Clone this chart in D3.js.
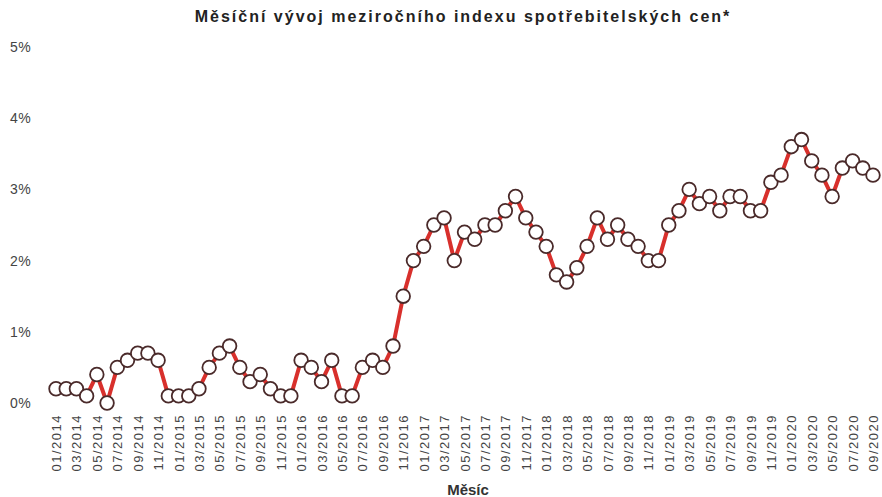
<!DOCTYPE html>
<html>
<head>
<meta charset="utf-8">
<script src="https://cdn.jsdelivr.net/npm/d3@7"></script>
<style>
  html, body { margin: 0; padding: 0; background: #fff; }
  svg { display: block; font-family: 'Liberation Sans', Arial, sans-serif; }
</style>
</head>
<body>
<div id="chart"></div>
<script>
(function() {
  'use strict';

  var title = 'Měsíční vývoj meziročního indexu spotřebitelských cen*';
  var xTitle = 'Měsíc';

  // year-on-year CPI, % (one array per year)
  var cpi2014 = [0.2, 0.2, 0.2, 0.1, 0.4, 0.0, 0.5, 0.6, 0.7, 0.7, 0.6, 0.1];
  var cpi2015 = [0.1, 0.1, 0.2, 0.5, 0.7, 0.8, 0.5, 0.3, 0.4, 0.2, 0.1, 0.1];
  var cpi2016 = [0.6, 0.5, 0.3, 0.6, 0.1, 0.1, 0.5, 0.6, 0.5, 0.8, 1.5, 2.0];
  var cpi2017 = [2.2, 2.5, 2.6, 2.0, 2.4, 2.3, 2.5, 2.5, 2.7, 2.9, 2.6, 2.4];
  var cpi2018 = [2.2, 1.8, 1.7, 1.9, 2.2, 2.6, 2.3, 2.5, 2.3, 2.2, 2.0, 2.0];
  var cpi2019 = [2.5, 2.7, 3.0, 2.8, 2.9, 2.7, 2.9, 2.9, 2.7, 2.7, 3.1, 3.2];
  var cpi2020 = [3.6, 3.7, 3.4, 3.2, 2.9, 3.3, 3.4, 3.3, 3.2];

  var years = [2014, 2015, 2016, 2017, 2018, 2019, 2020];
  var yTicks = [0, 1, 2, 3, 4, 5];

  var values = [].concat(cpi2014, cpi2015, cpi2016, cpi2017, cpi2018, cpi2019, cpi2020);

  // month labels "01/2014" ...
  var months = [];
  years.forEach(function(y) {
    for (var m = 1; m <= 12; m++) {
      if (months.length < values.length) {
        months.push((m < 10 ? '0' : '') + m + '/' + y);
      }
    }
  });
  var data = months.map(function(m, i) { return { month: m, value: values[i] }; });
  var tickMonths = months.filter(function(m, i) { return i % 2 === 0; });

  var width = 882, height = 497;
  var margin = { top: 47, right: 9, bottom: 94, left: 56 };

  var svg = d3.select('#chart')
    .append('svg')
      .attr('width', width)
      .attr('height', height);

  var x = d3.scalePoint()
    .domain(months)
    .range([margin.left, width - margin.right]);

  var y = d3.scaleLinear()
    .domain([0, 5])
    .range([height - margin.bottom, margin.top]);

  // title
  svg.append('text')
    .attr('x', 463)
    .attr('y', 22)
    .attr('text-anchor', 'middle')
    .style('font-size', '16px')
    .style('font-weight', 'bold')
    .style('letter-spacing', '2px')
    .style('fill', '#222')
    .text(title);

  // y labels
  svg.append('g')
    .selectAll('text')
    .data(yTicks)
    .join('text')
      .attr('x', 10)
      .attr('y', function(d) { return y(d); })
      .attr('dy', '0.35em')
      .style('font-size', '14px')
      .style('letter-spacing', '0.5px')
      .style('fill', '#444')
      .text(function(d) { return d + '%'; });

  // x labels, rotated to read bottom-to-top
  var xAxis = d3.axisBottom(x)
    .tickValues(tickMonths)
    .tickSize(0)
    .tickPadding(0);

  var gx = svg.append('g')
    .attr('transform', 'translate(0,' + (height - margin.bottom + 10) + ')')
    .call(xAxis);
  gx.select('.domain').remove();
  gx.selectAll('text')
    .attr('transform', 'rotate(-90)')
    .attr('x', -1)
    .attr('y', 0)
    .attr('dy', '0.35em')
    .attr('text-anchor', 'end')
    .style('font-family', "'Liberation Sans', Arial, sans-serif")
    .style('font-size', '13px')
    .style('letter-spacing', '1.5px')
    .style('fill', '#444');

  // x title
  svg.append('text')
    .attr('x', 468)
    .attr('y', 495)
    .attr('text-anchor', 'middle')
    .style('font-size', '15px')
    .style('font-weight', 'bold')
    .style('fill', '#333')
    .text(xTitle);

  var line = d3.line()
    .x(function(d) { return x(d.month); })
    .y(function(d) { return y(d.value); });

  svg.append('path')
    .datum(data)
    .attr('fill', 'none')
    .attr('stroke', '#d8302c')
    .attr('stroke-width', 4)
    .attr('stroke-linejoin', 'round')
    .attr('d', line);

  svg.append('g')
    .selectAll('circle')
    .data(data)
    .join('circle')
      .attr('cx', function(d) { return x(d.month); })
      .attr('cy', function(d) { return y(d.value); })
      .attr('r', 6.8)
      .attr('fill', '#fff')
      .attr('stroke', '#4a2a2a')
      .attr('stroke-width', 1.8);
})();
</script>
</body>
</html>
